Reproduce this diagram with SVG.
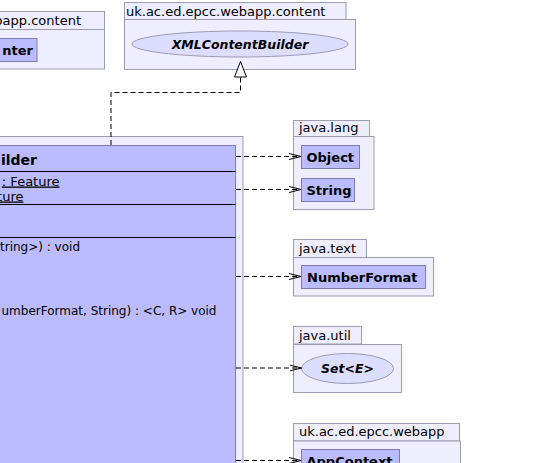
<svg xmlns="http://www.w3.org/2000/svg" width="542" height="463" viewBox="0 0 542 463">
<defs>
<style>
.pkg{fill:#eeeeff;stroke:#9c9cb0;stroke-width:1}
.cls{fill:#bbbbff;stroke:#7d7dae;stroke-width:1}
.ell{fill:#ddddff;stroke:#9c9cb0;stroke-width:1}
.pt{font-family:"DejaVu Sans",sans-serif;font-size:13px;fill:#000}
.cn{font-family:"DejaVu Sans",sans-serif;font-size:13px;font-weight:bold;fill:#000}
.ci{font-family:"DejaVu Sans",sans-serif;font-size:12.5px;font-weight:bold;font-style:italic;fill:#000}
.m{font-family:"DejaVu Sans",sans-serif;font-size:12px;fill:#000}
.sep{stroke:#000;stroke-width:1}
.dep{fill:none;stroke:#000;stroke-width:1;stroke-dasharray:5,3}
</style>
<marker id="open" viewBox="0 0 12 8" refX="12" refY="4" markerWidth="12" markerHeight="8" markerUnits="userSpaceOnUse" orient="auto">
<polyline points="0,1 12,4 0,7" fill="none" stroke="#000" stroke-width="1"/>
</marker>
</defs>

<g id="pkg-content-left">
<rect class="pkg" x="-10" y="11.5" width="114.5" height="18"/>
<rect class="pkg" x="-10" y="29.5" width="114.5" height="39.5"/>
<text class="pt" x="81" y="25" text-anchor="end">bapp.content</text>
<rect class="cls" x="-10" y="38.5" width="47" height="23"/>
<text class="cn" x="33" y="55" text-anchor="end">nter</text>
</g>

<g id="pkg-content">
<rect class="pkg" x="124.5" y="2.5" width="221.5" height="17"/>
<rect class="pkg" x="124.5" y="19.5" width="231" height="50"/>
<text class="pt" x="126" y="16">uk.ac.ed.epcc.webapp.content</text>
<ellipse class="ell" cx="240" cy="44" rx="108" ry="13"/>
<text class="ci" x="240" y="48.5" text-anchor="middle">XMLContentBuilder</text>
</g>

<g id="main">
<rect class="pkg" x="-10" y="136.5" width="253" height="340"/>
<rect class="cls" x="-10" y="145.5" width="245.5" height="330"/>
<text x="37" y="165" text-anchor="end" style="font-family:'DejaVu Sans',sans-serif;font-size:14px;font-weight:bold">ilder</text>
<line class="sep" x1="-10" y1="171.5" x2="235.5" y2="171.5"/>
<text class="m" x="59.5" y="185.5" text-anchor="end" text-decoration="underline" style="font-size:13px">: Feature</text>
<text class="m" x="23.5" y="200.5" text-anchor="end" text-decoration="underline" style="font-size:13px">ture</text>
<line class="sep" x1="-10" y1="204.5" x2="235.5" y2="204.5"/>
<line class="sep" x1="-10" y1="237.5" x2="235.5" y2="237.5"/>
<text class="m" x="80" y="251" text-anchor="end">tring&gt;) : void</text>
<text class="m" x="216.5" y="315" text-anchor="end">umberFormat, String) : &lt;C, R&gt; void</text>
</g>

<g id="pkg-lang">
<rect class="pkg" x="293.5" y="120.5" width="76" height="16"/>
<rect class="pkg" x="293.5" y="136.5" width="80.5" height="73"/>
<text class="pt" x="299" y="131.5">java.lang</text>
<rect class="cls" x="301.5" y="145.5" width="58" height="23"/>
<text class="cn" x="306.5" y="161.5">Object</text>
<rect class="cls" x="301.5" y="178.5" width="53" height="23"/>
<text class="cn" x="306.5" y="194.5">String</text>
</g>

<g id="pkg-text">
<rect class="pkg" x="293.5" y="239.5" width="73" height="18"/>
<rect class="pkg" x="293.5" y="257.5" width="140" height="38.5"/>
<text class="pt" x="299" y="252.5">java.text</text>
<rect class="cls" x="301.5" y="265.5" width="124" height="23"/>
<text class="cn" x="307" y="281.5">NumberFormat</text>
</g>

<g id="pkg-util">
<rect class="pkg" x="293.5" y="326.5" width="68" height="17.5"/>
<rect class="pkg" x="293.5" y="344.5" width="108" height="48"/>
<text class="pt" x="299" y="339.5">java.util</text>
<ellipse class="ell" cx="347.5" cy="368.5" rx="46" ry="15"/>
<text class="ci" x="347.5" y="373" text-anchor="middle">Set&lt;E&gt;</text>
</g>

<g id="pkg-webapp">
<rect class="pkg" x="293.5" y="423.5" width="166" height="17.5"/>
<rect class="pkg" x="293.5" y="441" width="167" height="40"/>
<text class="pt" x="299" y="436">uk.ac.ed.epcc.webapp</text>
<rect class="cls" x="301.5" y="449.5" width="98" height="23"/>
<text class="cn" x="306.5" y="466">AppContext</text>
</g>

<g id="connectors">
<polyline class="dep" points="111,145 111,92.5 240.5,92.5 240.5,77"/>
<polygon points="240.5,61.5 234.5,77 246.5,77" fill="#fff" stroke="#000" stroke-width="1"/>
<line class="dep" x1="236" y1="156.5" x2="301" y2="156.5" marker-end="url(#open)"/>
<line class="dep" x1="236" y1="189.5" x2="301" y2="189.5" marker-end="url(#open)"/>
<line class="dep" x1="236" y1="276.5" x2="301" y2="276.5" marker-end="url(#open)"/>
<line class="dep" x1="236" y1="368" x2="301.5" y2="368" marker-end="url(#open)"/>
<line class="dep" x1="236" y1="460.5" x2="301" y2="460.5" marker-end="url(#open)"/>
</g>
</svg>
